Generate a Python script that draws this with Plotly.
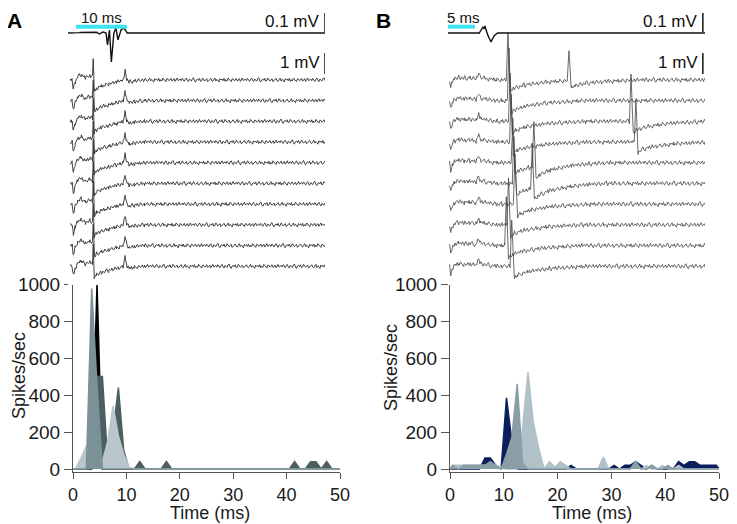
import numpy as np
import plotly.graph_objects as go

W, H = 737, 524
PAGE_PAD = 8   # the page body margin shifts the figure by this much

# ---------------- spike-rate histograms, 1 ms bins ----------------
bin_ms = [i + 0.5 for i in range(50)]

rate_a_black = [
    0, 0, 0, 0, 1000, 0, 0, 0, 0, 0,
    0, 0, 0, 0, 0, 0, 0, 0, 0, 0,
    0, 0, 0, 0, 0, 0, 0, 0, 0, 0,
    0, 0, 0, 0, 0, 0, 0, 0, 0, 0,
    0, 0, 0, 0, 0, 0, 0, 0, 0, 0]
rate_a_dark = [
    0, 0, 0, 0, 500, 500, 40, 200, 440, 100,
    0, 0, 40, 0, 0, 0, 0, 40, 0, 0,
    0, 0, 0, 0, 0, 0, 0, 0, 0, 0,
    0, 0, 0, 0, 0, 0, 0, 0, 0, 0,
    0, 40, 0, 0, 40, 40, 0, 40, 0, 0]
rate_a_light = [
    0, 60, 125, 60, 20, 40, 150, 340, 180, 80,
    10, 0, 0, 0, 0, 0, 0, 0, 0, 0,
    0, 0, 0, 0, 0, 0, 0, 0, 0, 0,
    0, 0, 0, 0, 0, 0, 0, 0, 0, 0,
    0, 0, 0, 0, 0, 0, 0, 0, 0, 0]
rate_a_mid = [
    0, 0, 0, 975, 450, 0, 0, 0, 0, 0,
    0, 0, 0, 0, 0, 0, 0, 0, 0, 0,
    0, 0, 0, 0, 0, 0, 0, 0, 0, 0,
    0, 0, 0, 0, 0, 0, 0, 0, 0, 0,
    0, 0, 0, 0, 0, 0, 0, 0, 0, 0]

rate_b_navy = [
    0, 0, 0, 0, 0, 0, 60, 60, 20, 0,
    385, 150, 0, 0, 0, 0, 0, 0, 0, 0,
    0, 0, 20, 0, 0, 0, 0, 0, 0, 0,
    20, 0, 20, 20, 40, 20, 0, 20, 0, 0,
    0, 0, 40, 20, 40, 40, 20, 20, 20, 20]
rate_b_light = [
    20, 20, 20, 20, 20, 20, 20, 20, 20, 10,
    0, 0, 0, 225, 524, 250, 110, 0, 40, 10,
    40, 20, 0, 0, 0, 0, 0, 0, 65, 0,
    0, 0, 0, 0, 20, 0, 20, 0, 0, 20,
    0, 0, 20, 0, 0, 0, 0, 0, 0, 0]
rate_b_mid = [
    20, 0, 20, 20, 20, 20, 20, 40, 20, 0,
    80, 170, 460, 30, 0, 0, 0, 0, 0, 0,
    0, 0, 0, 0, 0, 0, 0, 0, 0, 0,
    0, 0, 0, 0, 40, 0, 0, 20, 0, 0,
    20, 0, 0, 0, 0, 0, 0, 0, 0, 0]

# ---------------- raw sweeps (ms, mV) ----------------
# repeating waveform of every sweep in A
sweep_a_t = [0.4, 0.8, 1.05, 1.4, 1.9, 2.6, 3.4, 4.3, 4.8, 4.95, 5.15, 5.6, 6.5, 8.0,
             9.5, 10.8, 11.2, 11.5, 12.0, 13.0, 15.0, 50.4]
sweep_a_mv = [0.0, 0.0, -0.45, -0.1, 0.15, 0.25, 0.1, 0.2, 0.15, 1.05, -0.55, -0.4, -0.3, -0.2,
              -0.1, -0.02, 0.42, 0.05, -0.1, -0.05, 0.0, 0.0]

# stimulus artefact part of every sweep in B
sweep_b_t = [0.3, 0.5, 0.8, 1.2, 2.0, 3.0, 4.0, 5.2, 5.7, 6.0, 6.5, 7.5, 9.0, 10.0, 47.6]
sweep_b_mv = [0.0, -0.4, -0.1, 0.05, 0.12, 0.08, 0.1, 0.05, 0.35, 0.12, 0.1, 0.05, 0.0, 0.0, 0.0]

# standard spike waveform used for B
spike_dt = [-0.3, 0.0, 0.4, 1.1, 3.0, 7.0, 14.0]
spike_mv = [0.0, 2.2, -0.55, -0.4, -0.25, -0.1, 0.0]

b_spike_ms = [11.1, 11.3, 11.5, 11.7, 12.0, 12.2, 12.4, 11.2, 10.8, 11.8]
b_spike_gain = [1.0, 1.1, 1.05, 1.0, 0.95, 1.05, 1.1, 1.0, 1.1, 1.05]
b_extra_sweep = [0, 2, 3, 4, 5]
b_extra_ms = [22.4, 33.9, 34.8, 15.9, 15.6]
b_extra_gain = [0.66, 1.0, 0.9, 1.0, 0.95]

# averaged field potentials (mV)
avg_a_t = [0, 5.5, 6.2, 6.8, 7.45, 7.75, 8.13, 8.5, 9.0, 9.4, 9.8, 10.4, 11.0, 11.6, 50.4]
avg_a_mv = [0, 0.005, -0.005, 0.005, 0, -0.057, 0.014, -0.138, 0, 0.024, -0.033, 0.014, 0.024, 0, 0]
avg_b_t = [0, 5.8, 6.5, 6.7, 6.85, 7.2, 7.96, 8.5, 9.1, 47.6]
avg_b_mv = [0, 0, 0.029, 0.02, 0.033, 0, -0.043, -0.014, 0, 0]

# recording noise, hundredths of a mV, read roughly off the sweeps
noise_pattern = [3, -2, 5, 1, -4, 2, 6, -1, -5, 3, 0, -3, 4, 7, -2, -6, 1, 3, -1, 5,
                 -4, -2, 6, 2, -3, 0, 4, -5, -1, 3, 5, -2, -4, 1, 6, -3, 2, -1, -6, 4,
                 0, 3, -2, 5, -4, 1, -3, 6, 2, -1, -5, 4, 3, -2, 0, 5, -3, -1, 4, -4,
                 2, 6, -2, 1]

n_sweeps = 10
first_sweep = -2.24   # offset of first sweep below the average trace
sweep_gap = -0.986


def build(key_t, key_mv, t0, t1, shift, noise_mv, spikes=()):
    extra = [s + d for s, g in spikes for d in spike_dt]
    t = np.union1d(np.arange(t0, t1 + 1e-9, 0.2), np.concatenate([key_t, extra]) if extra else key_t)
    t = t[(t >= t0) & (t <= t1)]
    v = np.interp(t, key_t, key_mv)
    for s, g in spikes:
        v = v + g * np.interp(t - s, spike_dt, spike_mv, left=0, right=0)
    nz = np.resize(np.roll(np.array(noise_pattern) * 0.01, shift), len(t))
    return t, v + nz * noise_mv


fig = go.Figure()

# sweeps, panel A
for i in range(n_sweeps):
    t, v = build(sweep_a_t, sweep_a_mv, 0.4, 50.4, i * 11, 1.6)
    fig.add_trace(go.Scatter(x=t, y=v + first_sweep + sweep_gap * i, mode='lines',
                             line=dict(color='#2e2e2e', width=0.9), xaxis='x3', yaxis='y3',
                             hoverinfo='skip'))
# sweeps, panel B
for i in range(n_sweeps):
    spk = [(b_spike_ms[i], b_spike_gain[i])]
    spk += [(b_extra_ms[k], b_extra_gain[k]) for k in range(len(b_extra_sweep)) if b_extra_sweep[k] == i]
    t, v = build(sweep_b_t, sweep_b_mv, 0.3, 47.6, i * 17 + 5, 1.8, spk)
    fig.add_trace(go.Scatter(x=t, y=v + first_sweep + sweep_gap * i, mode='lines',
                             line=dict(color='#444444', width=0.8), xaxis='x4', yaxis='y4',
                             hoverinfo='skip'))

# averages, drawn at 10x gain (their scale bar is 0.1 mV)
t, v = build(avg_a_t, avg_a_mv, 0, 50.4, 3, 0.004)
fig.add_trace(go.Scatter(x=t, y=v * 10, mode='lines', line=dict(color='#111111', width=1.4),
                         xaxis='x3', yaxis='y3', hoverinfo='skip'))
t, v = build(avg_b_t, avg_b_mv, 0, 47.6, 21, 0.004)
fig.add_trace(go.Scatter(x=t, y=v * 10, mode='lines', line=dict(color='#111111', width=1.4),
                         xaxis='x4', yaxis='y4', hoverinfo='skip'))

# histograms
hx = [0] + bin_ms + [50]
for vals, col, ax in [(rate_a_black, '#000000', 'x'), (rate_a_dark, '#4b5e62', 'x'),
                      (rate_a_light, '#b9c7cc', 'x'), (rate_a_mid, '#7b9197', 'x'),
                      (rate_b_navy, '#0b1f5e', 'x2'), (rate_b_light, '#b1c1c8', 'x2'),
                      (rate_b_mid, '#8a9ea6', 'x2')]:
    fig.add_trace(go.Scatter(x=hx, y=[0] + vals + [0], mode='lines', fill='tozeroy',
                             fillcolor=col, line=dict(color=col, width=1.5),
                             xaxis=ax, yaxis='y' if ax == 'x' else 'y2', hoverinfo='skip'))

FW, FH = W - PAGE_PAD, H - PAGE_PAD


def px(x):
    return (x - PAGE_PAD) / FW


def py(y):
    return 1 - (y - PAGE_PAD) / FH


tick_font = dict(family='Arial, Liberation Sans, sans-serif', size=19, color='#1a1a1a')
title_font = dict(tick_font, size=18)
hist_x = dict(range=[0, 50], tickvals=[0, 10, 20, 30, 40, 50], ticks='outside', ticklen=6,
              showline=True, linecolor='#555555', tickcolor='#555555', showgrid=False,
              zeroline=False, tickfont=dict(tick_font, size=18), automargin=False)
hist_y = dict(range=[-16, 1000], domain=[py(472), py(284)], tickvals=[0, 200, 400, 600, 800, 1000],
              ticks='outside', ticklen=8, showline=True, linecolor='#555555', tickcolor='#555555',
              showgrid=False, zeroline=False, tickfont=tick_font, automargin=False)
trace_y = dict(range=[-12, 1.19], domain=[py(285), py(8)], visible=False, automargin=False)

fig.update_layout(
    width=FW, height=FH, autosize=False, showlegend=False,
    margin=dict(l=0, r=0, t=0, b=0, autoexpand=False),
    plot_bgcolor='white', paper_bgcolor='white',
    xaxis=dict(hist_x, domain=[px(73), px(340)]),
    yaxis=dict(hist_y, anchor='x'),
    xaxis2=dict(hist_x, domain=[px(450), px(719)], anchor='y2'),
    yaxis2=dict(hist_y, anchor='x2'),
    xaxis3=dict(range=[0, 50.4], domain=[px(68), px(325)], visible=False, anchor='y3',
                automargin=False),
    yaxis3=dict(trace_y, anchor='x3'),
    xaxis4=dict(range=[0, 47.6], domain=[px(448), px(705)], visible=False, anchor='y4',
                automargin=False),
    yaxis4=dict(trace_y, anchor='x4'),
)

# scale bars
for xr, yr, t0, t1, bar_x in [('x3', 'y3', 1.57, 11.57, 50.4), ('x4', 'y4', 0, 5, 47.2)]:
    fig.add_shape(type='line', xref=xr, yref=yr, x0=t0, x1=t1, y0=0.3, y1=0.3,
                  line=dict(color='#3ee3ee', width=4))
    fig.add_shape(type='line', xref=xr, yref=yr, x0=bar_x, x1=bar_x, y0=0.05, y1=0.95,
                  line=dict(color='#111111', width=1.5))
    fig.add_shape(type='line', xref=xr, yref=yr, x0=bar_x, x1=bar_x, y0=-0.95, y1=-1.95,
                  line=dict(color='#111111', width=1.5))

lab_font = dict(family='Arial, Liberation Sans, sans-serif', size=17, color='#111111')
notes = [
    ('x3', 'y3', 49.9, 0.55, '0.1 mV', 'right', 'middle'),
    ('x3', 'y3', 49.9, -1.4, '1 mV', 'right', 'middle'),
    ('x4', 'y4', 46.7, 0.55, '0.1 mV', 'right', 'middle'),
    ('x4', 'y4', 46.7, -1.4, '1 mV', 'right', 'middle'),
]
for xr, yr, x, y, txt, al, va in notes:
    fig.add_annotation(xref=xr, yref=yr, x=x, y=y, text=txt, showarrow=False,
                       xanchor=al, yanchor=va, font=lab_font)

# time scale labels sit right under the page edge
for x, txt in [(101, '10 ms'), (463, '5 ms')]:
    fig.add_annotation(xref='paper', yref='paper', x=px(x), y=1, text=txt, showarrow=False,
                       xanchor='center', yanchor='top', borderpad=0,
                       font=dict(lab_font, size=15))

for x, letter in [(14, 'A'), (383, 'B')]:
    fig.add_annotation(xref='paper', yref='paper', x=px(x), y=1, text='<b>' + letter + '</b>',
                       showarrow=False, xanchor='center', yanchor='top', borderpad=0,
                       font=dict(family='Arial, Liberation Sans, sans-serif', size=21, color='#000000'))

for x, y in [(19, 376), (391, 368)]:
    fig.add_annotation(xref='paper', yref='paper', x=px(x), y=py(y), text='Spikes/sec', textangle=-90,
                       showarrow=False, xanchor='center', yanchor='middle', font=title_font)
for x in [210, 592]:
    fig.add_annotation(xref='paper', yref='paper', x=px(x), y=0, text='Time (ms)',
                       showarrow=False, xanchor='center', yanchor='bottom', borderpad=0,
                       font=title_font)

fig.write_html("out.html")
